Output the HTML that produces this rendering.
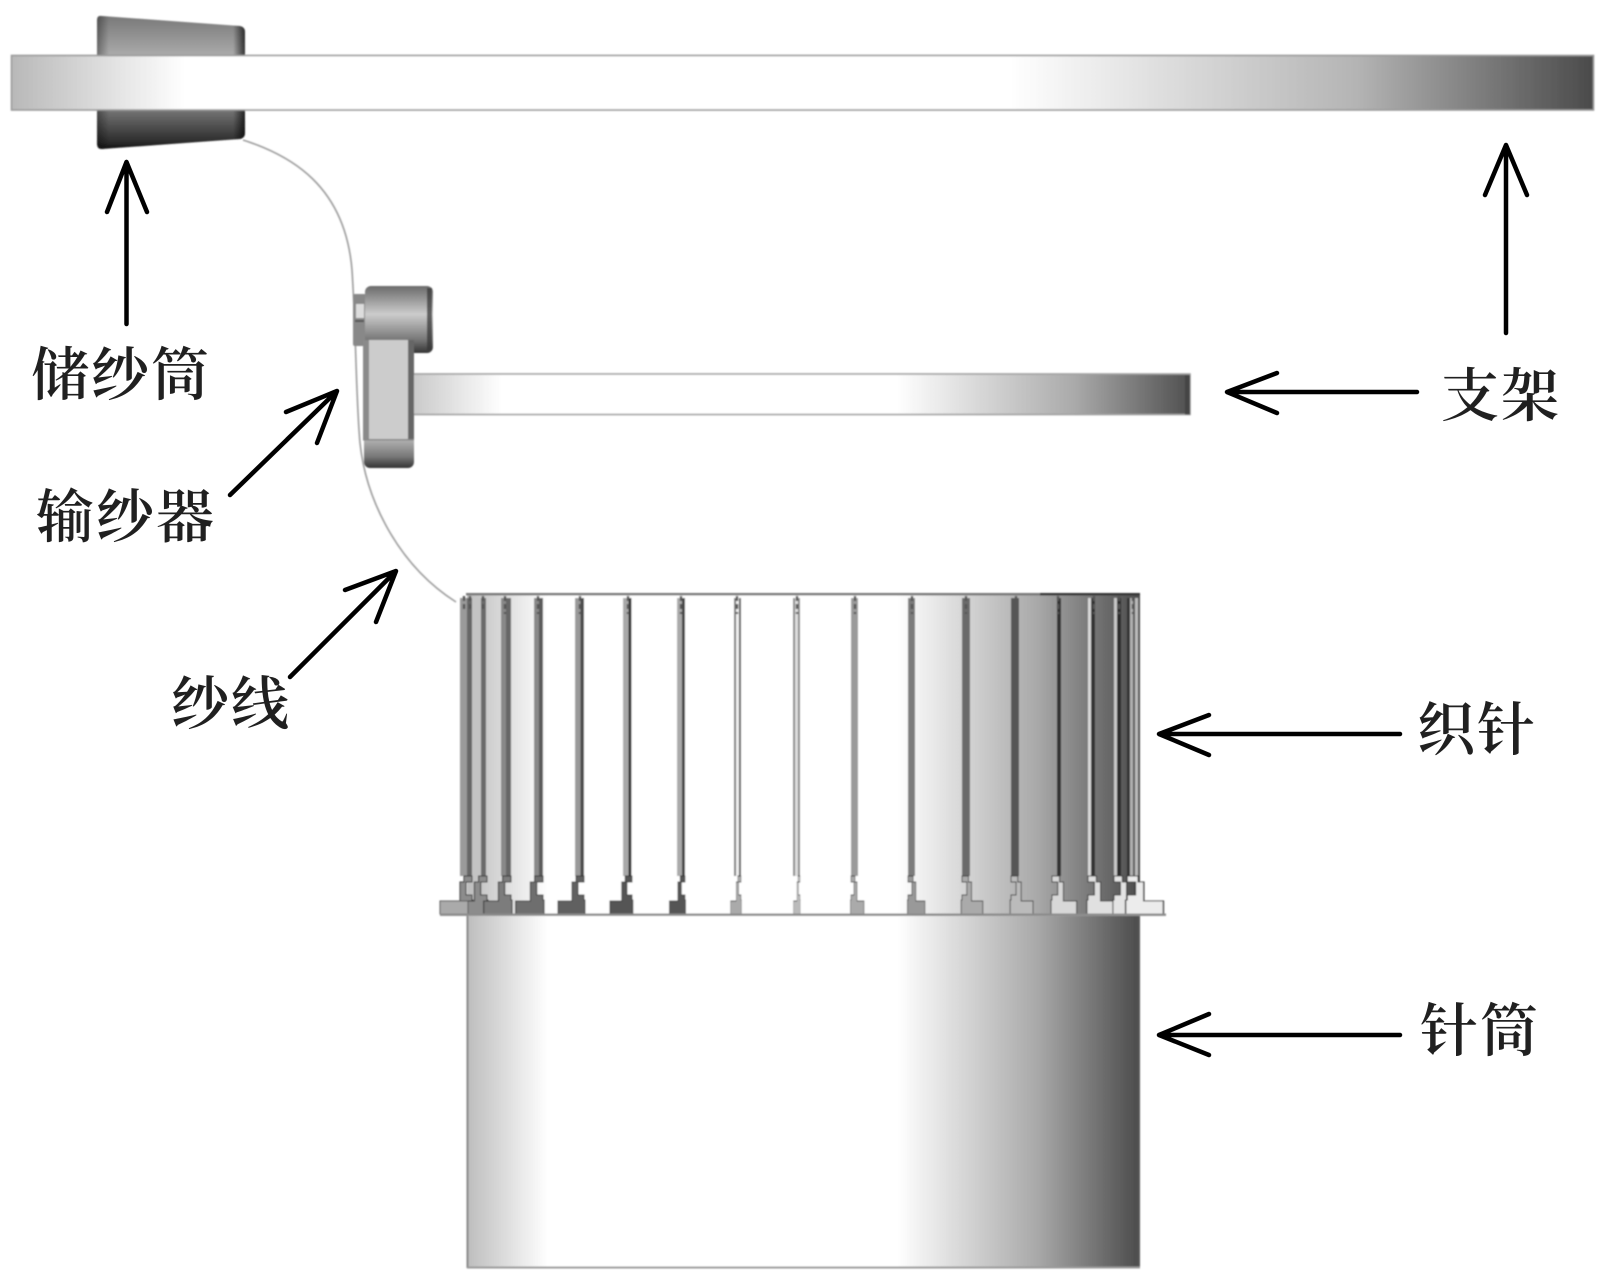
<!DOCTYPE html>
<html lang="zh">
<head>
<meta charset="utf-8">
<style>
html,body{margin:0;padding:0;background:#fff}
svg{display:block}
.t{font-family:"Liberation Serif","Noto Serif CJK SC",serif;font-size:58px;fill:#202020;font-weight:600;letter-spacing:2px}
.a{fill:none;stroke:#000;stroke-width:4.5;stroke-linecap:round;stroke-linejoin:round}
</style>
</head>
<body>
<svg width="1606" height="1283" viewBox="0 0 1606 1283" xmlns="http://www.w3.org/2000/svg">
<defs>
<filter id="b" x="-5%" y="-5%" width="110%" height="110%"><feGaussianBlur stdDeviation="0.8"/></filter>
<linearGradient id="gTop" gradientUnits="userSpaceOnUse" x1="11" y1="0" x2="1594" y2="0">
<stop offset="0" stop-color="#b8b8b8"/><stop offset=".11" stop-color="#fff"/><stop offset=".63" stop-color="#fff"/><stop offset=".85" stop-color="#b4b4b4"/><stop offset="1" stop-color="#4a4a4a"/>
</linearGradient>
<linearGradient id="gSmall" gradientUnits="userSpaceOnUse" x1="417" y1="0" x2="1190" y2="0">
<stop offset="0" stop-color="#ccc"/><stop offset=".11" stop-color="#fff"/><stop offset=".62" stop-color="#fff"/><stop offset=".85" stop-color="#aaa"/><stop offset="1" stop-color="#505050"/>
</linearGradient>
<linearGradient id="gCyl" gradientUnits="userSpaceOnUse" x1="467" y1="0" x2="1139" y2="0">
<stop offset="0" stop-color="#bdbdbd"/><stop offset=".12" stop-color="#fff"/><stop offset=".64" stop-color="#fff"/><stop offset=".85" stop-color="#a8a8a8"/><stop offset="1" stop-color="#4c4c4c"/>
</linearGradient>
<linearGradient id="gSpool" gradientUnits="userSpaceOnUse" x1="0" y1="15" x2="0" y2="149">
<stop offset="0" stop-color="#777"/><stop offset=".3" stop-color="#aaa"/><stop offset=".7" stop-color="#777"/><stop offset=".95" stop-color="#2a2a2a"/><stop offset="1" stop-color="#111"/>
</linearGradient>
<linearGradient id="gRoll" gradientUnits="userSpaceOnUse" x1="0" y1="286" x2="0" y2="353">
<stop offset="0" stop-color="#6a6a6a"/><stop offset=".42" stop-color="#ccc"/><stop offset=".8" stop-color="#777"/><stop offset="1" stop-color="#333"/>
</linearGradient>
<linearGradient id="gLow" gradientUnits="userSpaceOnUse" x1="0" y1="440" x2="0" y2="468">
<stop offset="0" stop-color="#b0b0b0"/><stop offset=".6" stop-color="#777"/><stop offset="1" stop-color="#333"/>
</linearGradient>
<linearGradient id="gSide" gradientUnits="userSpaceOnUse" x1="97" y1="0" x2="245" y2="0">
<stop offset="0" stop-color="#000" stop-opacity=".35"/><stop offset=".08" stop-color="#000" stop-opacity="0"/><stop offset=".92" stop-color="#000" stop-opacity="0"/><stop offset="1" stop-color="#000" stop-opacity=".7"/>
</linearGradient>
<g id="foot">
<path d="M-8 880H0V886H-6V899H0V904H1V918H-26V905H-12V886H-8Z" stroke="#333" stroke-width="1"/>
</g>
</defs>

<g filter="url(#b)">
<!-- spool -->
<path d="M97 20Q97 15 102 16L240 26Q245 27 245 32V133Q245 138 240 139L102 149Q97 149 97 144Z" fill="url(#gSpool)"/>
<path d="M97 20Q97 15 102 16L240 26Q245 27 245 32V133Q245 138 240 139L102 149Q97 149 97 144Z" fill="url(#gSide)"/>
<!-- top bar -->
<rect x="11.5" y="55.5" width="1582" height="54.5" fill="url(#gTop)" stroke="#9a9a9a" stroke-width="1.6"/>

<!-- yarn -->
<path d="M243 140C290 155 345 185 352 270C356 330 356 400 360 443C366 500 398 565 456 602" fill="none" stroke="#9c9c9c" stroke-width="1.6"/>

<!-- small bar -->
<rect x="412" y="374" width="778" height="40.5" fill="url(#gSmall)" stroke="#a0a0a0" stroke-width="1.6"/>
<rect x="1185" y="375" width="5" height="39.5" fill="#444"/>

<!-- feeder -->
<rect x="353" y="294" width="13" height="52" rx="2" fill="#888"/>
<rect x="356" y="304" width="8" height="14" fill="#ddd"/>
<rect x="355" y="320" width="9" height="2" fill="#555"/>
<rect x="365" y="286" width="68" height="67" rx="6" fill="url(#gRoll)"/>
<rect x="427" y="288" width="5" height="62" fill="#333" opacity=".7"/>
<rect x="364" y="340" width="50" height="128" rx="6" fill="url(#gLow)"/>
<rect x="363" y="340" width="51" height="100" fill="#ccc"/>
<rect x="363" y="340" width="6" height="100" fill="#8a8a8a"/>
<rect x="408" y="340" width="6" height="100" fill="#666"/>
<rect x="363" y="439" width="51" height="1.5" fill="#888"/>

<!-- needle zone -->
<rect x="467" y="594" width="673" height="321" fill="url(#gCyl)"/>
<rect x="466" y="593" width="674" height="2.4" fill="#777"/>
<rect x="1040" y="593" width="100" height="2.4" fill="#333"/>

<!-- needles: body -->
<g>
<rect x="460" y="598" width="7" height="278" fill="#9a9a9a"/><rect x="467" y="598" width="5" height="278" fill="#666"/>
<rect x="472" y="598" width="9" height="278" fill="#c4c4c4"/><rect x="481" y="598" width="5" height="278" fill="#6a6a6a"/>
<rect x="501" y="598" width="5" height="278" fill="#888"/><rect x="506" y="598" width="5" height="278" fill="#666"/>
<rect x="534" y="598" width="5" height="278" fill="#888"/><rect x="539" y="598" width="4" height="278" fill="#5a5a5a"/>
<rect x="575" y="598" width="5.5" height="278" fill="#999"/><rect x="580.5" y="598" width="3.5" height="278" fill="#4a4a4a"/>
<rect x="623" y="598" width="5.5" height="278" fill="#a8a8a8"/><rect x="628.5" y="598" width="3" height="278" fill="#333"/>
<rect x="677" y="598" width="5" height="278" fill="#aaa"/><rect x="682" y="598" width="3" height="278" fill="#444"/>
<rect x="734" y="598" width="2" height="278" fill="#777"/><rect x="736" y="598" width="3" height="278" fill="#eee"/><rect x="739" y="598" width="2" height="278" fill="#555"/>
<rect x="793" y="598" width="2" height="278" fill="#888"/><rect x="795" y="598" width="3" height="278" fill="#ddd"/><rect x="798" y="598" width="2" height="278" fill="#888"/>
<rect x="851" y="598" width="7" height="278" fill="#9a9a9a"/>
<rect x="908" y="598" width="7" height="278" fill="#7c7c7c"/>
<rect x="962" y="598" width="8" height="278" fill="#6a6a6a"/>
<rect x="1011" y="598" width="8" height="278" fill="#555"/>
<rect x="1052" y="598" width="5" height="278" fill="#9a9a9a"/><rect x="1057" y="598" width="4" height="278" fill="#333"/>
<rect x="1088" y="598" width="3" height="278" fill="#d8d8d8"/><rect x="1091" y="598" width="4" height="278" fill="#333"/>
<rect x="1114" y="598" width="3" height="278" fill="#c8c8c8"/><rect x="1117" y="598" width="4" height="278" fill="#2a2a2a"/>
<rect x="1127" y="598" width="3" height="278" fill="#333"/><rect x="1130" y="598" width="3" height="278" fill="#b0b0b0"/><rect x="1133" y="598" width="2" height="278" fill="#555"/><rect x="1135" y="598" width="3" height="278" fill="#bbb"/>
</g>
<!-- needle heads -->
<g fill="none" stroke="#555" stroke-width="2.4" stroke-dasharray="5 3">
<path d="M464 596V612M470 596V612M483 596V612M505 596V614M538 596V614M580 596V614M628 596V614M681 596V614"/>
<path d="M737 596V614M797 596V614M855 596V614M912 596V614M966 596V614M1016 596V614M1058 596V614M1094 596V614M1119 596V614M1133 596V614"/>
</g>
<!-- needle feet -->
<g fill="#7a7a7a">
<use href="#foot" transform="translate(472 -4)" fill="#8c8c8c"/>
<use href="#foot" transform="translate(487 -4) scale(1.05 1)" fill="#8c8c8c"/>
<use href="#foot" transform="translate(511 -4) scale(1.05 1)" fill="#7c7c7c"/>
<use href="#foot" transform="translate(543 -4) scale(1.05 1)" fill="#6e6e6e"/>
<use href="#foot" transform="translate(584 -4)" fill="#606060"/>
<use href="#foot" transform="translate(632 -4) scale(.85 1)" fill="#555"/>
<use href="#foot" transform="translate(685 -4) scale(.6 1)" fill="#555"/>
<use href="#foot" transform="translate(741 -4) scale(.4 1)" fill="#aaa"/>
<use href="#foot" transform="translate(800 -4) scale(.25 1)" fill="#bbb"/>
<use href="#foot" transform="translate(851 -4) scale(-.5 1)" fill="#aaa"/>
<use href="#foot" transform="translate(908 -4) scale(-.65 1)" fill="#999"/>
<use href="#foot" transform="translate(962 -4) scale(-.8 1)" fill="#aaa"/>
<use href="#foot" transform="translate(1011 -4) scale(-.85 1)" fill="#bbb"/>
<use href="#foot" transform="translate(1052 -4) scale(-.95 1)" fill="#d8d8d8"/>
<use href="#foot" transform="translate(1088 -4) scale(-1.05 1)" fill="#e0e0e0"/>
<use href="#foot" transform="translate(1114 -4) scale(-1.05 1)" fill="#e4e4e4"/>
<use href="#foot" transform="translate(1127 -4) scale(-1.4 1)" fill="#ececec"/>
</g>
<!-- flange -->
<rect x="440" y="901" width="28" height="13" fill="#aaa" stroke="#555" stroke-width="1"/>
<rect x="440" y="913.5" width="726" height="2.4" fill="#8a8a8a"/>

<!-- cylinder -->
<rect x="467" y="916" width="672" height="352" fill="url(#gCyl)"/>
<rect x="466.5" y="916" width="2" height="352" fill="#888"/>
<rect x="1138" y="916" width="2" height="352" fill="#555"/>
<rect x="467" y="1266.5" width="673" height="2" fill="#999"/>
</g>

<!-- arrows -->
<g class="a">
<path class="a" d="M126.5 324V162M107 212L126.5 162L147 212"/>
<path class="a" d="M1506 333V146M1485 195L1506 145L1527 195"/>
<path class="a" d="M1417 392H1228M1277 373L1227 392L1277 413"/>
<path class="a" d="M230 495L335 393M286 412L337 391L317 443"/>
<path class="a" d="M290 677L394 573M345 590L396 571L376 622"/>
<path class="a" d="M1400 734H1160M1209 715L1159 734L1209 755"/>
<path class="a" d="M1400 1035H1160M1209 1014L1159 1035L1209 1055"/>
</g>

<!-- labels -->
<text class="t" x="31" y="395">储纱筒</text>
<text class="t" x="36" y="537">输纱器</text>
<text class="t" x="171" y="724">纱线</text>
<text class="t" x="1441" y="416">支架</text>
<text class="t" x="1417" y="750">织针</text>
<text class="t" x="1420" y="1051">针筒</text>
</svg>
</body>
</html>
